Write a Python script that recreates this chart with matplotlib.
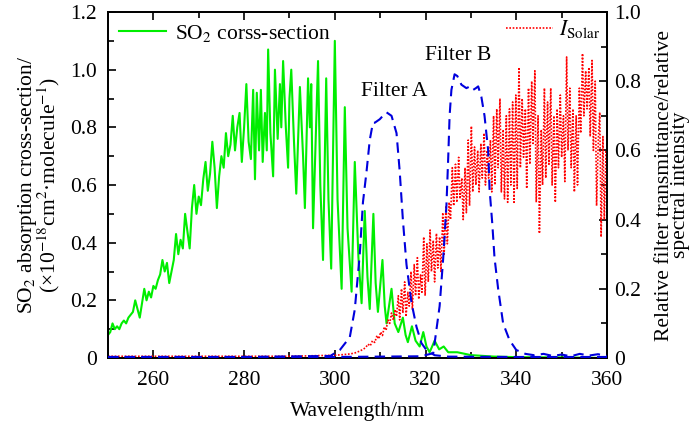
import matplotlib
matplotlib.use("Agg")
import matplotlib.pyplot as plt
from matplotlib.ticker import MultipleLocator, FuncFormatter

plt.rcParams['font.family'] = ['Liberation Serif', 'DejaVu Serif']
plt.rcParams['mathtext.fontset'] = 'stix'

# SO2 absorption cross-section (x1e-18 cm^2/molecule)
so2_wl = [250.0, 250.5, 251.0, 251.5, 252.0, 252.5, 253.0, 253.5, 254.0, 254.5,
          255.0, 255.5, 256.0, 256.5, 257.0, 257.5, 258.0, 258.5, 259.0, 259.5,
          260.0, 260.5, 261.0, 261.5, 262.0, 262.5, 263.0, 263.5, 264.0, 264.5,
          265.0, 265.5, 266.0, 266.5, 267.0, 267.5, 268.0, 268.5, 269.0, 269.5,
          270.0, 270.5, 271.0, 271.5, 272.0, 272.5, 273.0, 273.5, 274.0, 274.5,
          275.0, 275.5, 276.0, 276.5, 277.0, 277.5, 278.0, 278.5, 279.0, 279.5,
          280.0, 280.5, 281.0, 281.5, 282.0, 282.4, 282.8, 283.3, 283.7, 284.1,
          284.6, 285.0, 285.3, 285.8, 286.4, 286.8, 287.4, 287.9, 288.2, 288.6,
          289.2, 289.7, 290.0, 290.4, 291.0, 291.5, 292.3, 293.0, 293.4, 294.1,
          294.5, 294.8, 295.2, 296.3, 296.8, 297.4, 298.1, 298.6, 299.2, 300.0,
          300.6, 301.5, 302.2, 302.8, 303.7, 304.4, 305.2, 305.9, 306.6, 307.2,
          307.7, 308.5, 309.0, 309.5, 310.5, 311.0, 311.4, 312.5, 313.2, 314.0,
          315.0, 315.6, 316.1, 317.0, 317.8, 318.7, 319.5, 320.2, 320.9, 322.0,
          323.0, 324.0, 325.0, 327.0, 330.0, 335.0, 340.0, 350.0, 360.0]
so2_val = [0.08, 0.09, 0.12, 0.10, 0.11, 0.10, 0.12, 0.13, 0.12, 0.14,
           0.15, 0.16, 0.20, 0.17, 0.14, 0.19, 0.24, 0.20, 0.23, 0.21,
           0.25, 0.24, 0.27, 0.29, 0.34, 0.30, 0.33, 0.26, 0.30, 0.34,
           0.43, 0.36, 0.41, 0.38, 0.50, 0.44, 0.38, 0.52, 0.60, 0.50,
           0.56, 0.53, 0.62, 0.68, 0.58, 0.64, 0.75, 0.66, 0.52, 0.63,
           0.70, 0.66, 0.78, 0.70, 0.74, 0.84, 0.72, 0.80, 0.85, 0.68,
           0.80, 0.95, 0.75, 0.69, 0.93, 0.62, 0.92, 0.72, 0.93, 0.68,
           0.85, 0.72, 1.07, 0.78, 0.63, 1.00, 0.76, 0.95, 0.80, 1.03,
           0.80, 0.66, 0.90, 1.00, 0.75, 0.57, 0.94, 0.70, 0.52, 0.97,
           0.80, 0.95, 0.45, 1.03, 0.60, 0.34, 0.97, 0.55, 0.31, 1.10,
           0.55, 0.24, 0.87, 0.45, 0.23, 0.68, 0.35, 0.19, 0.51, 0.28,
           0.17, 0.50, 0.26, 0.16, 0.34, 0.18, 0.12, 0.24, 0.12, 0.09,
           0.14, 0.08, 0.055, 0.11, 0.06, 0.04, 0.09, 0.04, 0.02, 0.06,
           0.03, 0.04, 0.02, 0.02, 0.01, 0.005, 0.003, 0.002, 0.0]

# Filter A transmittance (relative)
fa_wl = [250.0, 280.0, 299.0, 301.1, 303.3, 304.4, 305.5, 306.2, 307.0, 307.7,
         308.4, 308.8, 309.9, 310.6, 311.4, 312.5, 313.6, 314.3, 315.0, 315.8,
         316.9, 318.0, 319.1, 320.2, 322.0, 325.0, 340.0, 360.0]
fa_val = [0.003, 0.003, 0.006, 0.023, 0.06, 0.14, 0.30, 0.45, 0.54, 0.63,
          0.68, 0.68, 0.69, 0.70, 0.71, 0.70, 0.65, 0.54, 0.40, 0.27,
          0.16, 0.09, 0.043, 0.023, 0.008, 0.004, 0.003, 0.003]

# Filter B transmittance (relative)
fb_wl = [250.0, 300.0, 319.0, 321.7, 323.1, 323.9, 324.6, 325.0, 325.3, 325.7,
         326.4, 327.0, 327.9, 329.0, 329.8, 330.5, 331.1, 331.6, 332.3, 333.0,
         333.8, 334.1, 334.7, 335.2, 336.0, 337.1, 338.5, 340.0, 340.6, 342.0,
         344.0, 346.0, 348.0, 350.0, 352.0, 354.0, 356.0, 358.0, 360.0]
fb_val = [0.003, 0.003, 0.005, 0.014, 0.15, 0.29, 0.44, 0.58, 0.70, 0.775,
          0.82, 0.815, 0.79, 0.78, 0.785, 0.775, 0.78, 0.785, 0.755, 0.70,
          0.60, 0.49, 0.39, 0.29, 0.20, 0.10, 0.052, 0.023, 0.02, 0.012,
          0.008, 0.012, 0.006, 0.01, 0.005, 0.012, 0.007, 0.011, 0.006]

# Relative solar spectral intensity
sol_wl = [250.0, 270.0, 290.0, 300.0, 302.0, 303.5, 304.5, 305.5, 306.2, 306.8,
          307.3, 307.8, 308.3, 308.8, 309.3, 309.7, 310.1, 310.5, 310.9, 311.3,
          311.7, 312.1, 312.5, 312.9, 313.3, 313.6, 314.0, 314.3, 314.7, 315.0,
          315.4, 315.7, 316.1, 316.4, 316.8, 317.1, 317.5, 317.8, 318.2, 318.5,
          318.9, 319.2, 319.6, 319.9, 320.3, 320.6, 321.0, 321.3, 321.7, 322.0,
          322.4, 322.7, 323.1, 323.4, 323.8, 324.1, 324.5, 324.8, 325.2, 325.5,
          325.9, 326.2, 326.6, 326.9, 327.3, 327.6, 328.0, 328.3, 328.7, 329.0,
          329.4, 329.7, 330.1, 330.4, 330.8, 331.1, 331.5, 331.8, 332.2, 332.5,
          332.9, 333.2, 333.6, 333.9, 334.3, 334.6, 335.0, 335.3, 335.7, 336.0,
          336.4, 336.7, 337.1, 337.4, 337.8, 338.1, 338.5, 338.8, 339.2, 339.5,
          339.9, 340.2, 340.6, 340.9, 341.3, 341.6, 342.0, 342.3, 342.7, 343.0,
          343.4, 343.7, 344.1, 344.4, 344.8, 345.1, 345.5, 345.8, 346.2, 346.5,
          346.9, 347.2, 347.6, 347.9, 348.3, 348.6, 349.0, 349.3, 349.7, 350.0,
          350.4, 350.7, 351.1, 351.4, 351.8, 352.1, 352.5, 352.8, 353.2, 353.5,
          353.9, 354.2, 354.6, 354.9, 355.3, 355.6, 356.0, 356.3, 356.7, 357.0,
          357.4, 357.7, 358.1, 358.4, 358.7, 359.1, 359.4, 359.8, 360.0]
sol_val = [0.005, 0.005, 0.005, 0.008, 0.01, 0.012, 0.015, 0.02, 0.025, 0.03,
           0.04, 0.035, 0.05, 0.045, 0.065, 0.055, 0.075, 0.065, 0.09, 0.08,
           0.11, 0.10, 0.13, 0.11, 0.14, 0.12, 0.18, 0.11, 0.20, 0.13,
           0.22, 0.12, 0.19, 0.15, 0.25, 0.14, 0.27, 0.18, 0.29, 0.17,
           0.24, 0.19, 0.35, 0.18, 0.33, 0.22, 0.37, 0.25, 0.34, 0.22,
           0.36, 0.26, 0.35, 0.25, 0.42, 0.30, 0.44, 0.33, 0.45, 0.40,
           0.55, 0.44, 0.56, 0.45, 0.58, 0.46, 0.52, 0.40, 0.55, 0.42,
           0.63, 0.44, 0.67, 0.48, 0.61, 0.50, 0.60, 0.48, 0.62, 0.52,
           0.65, 0.50, 0.60, 0.52, 0.63, 0.48, 0.70, 0.50, 0.72, 0.55,
           0.75, 0.48, 0.66, 0.46, 0.70, 0.45, 0.72, 0.50, 0.74, 0.45,
           0.76, 0.49, 0.84, 0.55, 0.75, 0.58, 0.72, 0.49, 0.78, 0.56,
           0.80, 0.62, 0.83, 0.45, 0.70, 0.36, 0.66, 0.50, 0.78, 0.52,
           0.74, 0.56, 0.78, 0.50, 0.70, 0.45, 0.72, 0.55, 0.76, 0.58,
           0.70, 0.51, 0.87, 0.60, 0.78, 0.55, 0.72, 0.48, 0.70, 0.50,
           0.78, 0.65, 0.88, 0.70, 0.83, 0.72, 0.84, 0.64, 0.86, 0.60,
           0.80, 0.44, 0.64, 0.71, 0.35, 0.64, 0.40, 0.60, 0.50]

x_ticks = [260, 280, 300, 320, 340, 360]

FS = 15.5

fig = plt.figure(figsize=(6.99, 4.26), dpi=100)
ax = fig.add_axes([0.1545, 0.1596, 0.7139, 0.8122])
ax2 = ax.twinx()

l1, = ax.plot(so2_wl, so2_val, color='#00ee00', lw=1.5, label='SO$_2$ corss-section', zorder=2)
ax2.plot(fa_wl, fa_val, color='#0000dd', lw=1.5, ls=(0, (5, 3)), zorder=3)
ax2.plot(fb_wl, fb_val, color='#0000dd', lw=1.5, ls=(0, (5, 3)), zorder=3)
l2, = ax2.plot(sol_wl, sol_val, color='#ff0000', lw=1.2, ls=(0, (1, 1)), label='$I_{\\rm Solar}$', zorder=2)

ax.set_xlim(250, 360)
ax.set_ylim(0, 1.2)
ax2.set_ylim(0, 1.0)

fmt = FuncFormatter(lambda v, p: '0' if abs(v) < 1e-9 else f'{v:.1f}')
ax.set_xticks(x_ticks)
ax.xaxis.set_minor_locator(MultipleLocator(10))
ax.yaxis.set_major_locator(MultipleLocator(0.2))
ax.yaxis.set_minor_locator(MultipleLocator(0.1))
ax.yaxis.set_major_formatter(fmt)
ax2.yaxis.set_major_locator(MultipleLocator(0.2))
ax2.yaxis.set_minor_locator(MultipleLocator(0.1))
ax2.yaxis.set_major_formatter(fmt)

ax.tick_params(axis='x', which='both', direction='in', top=True, labelsize=FS, pad=9)
ax.tick_params(axis='y', which='both', direction='in', labelsize=FS, pad=8)
ax2.tick_params(axis='y', which='both', direction='in', labelsize=FS, pad=5)
ax.tick_params(which='major', length=6, width=1.2)
ax.tick_params(which='minor', length=4, width=1.2)
ax2.tick_params(which='major', length=6, width=1.2)
ax2.tick_params(which='minor', length=4, width=1.2)
for s in ax.spines.values():
    s.set_linewidth(1.3)
for s in ax2.spines.values():
    s.set_linewidth(1.3)

ax.set_xlabel('Wavelength/nm', fontsize=FS, labelpad=9)
ax.set_ylabel('SO$_2$ absorption cross-section/\n(×10$^{-18}$cm$^2$·molecule$^{-1}$)',
              fontsize=FS, linespacing=0.8, labelpad=6)
ax2.set_ylabel('Relative filter transmittance/relative\nspectral intensity',
               fontsize=FS, linespacing=0.8, labelpad=10)

ax2.text(313, 0.77, 'Filter A', fontsize=FS, ha='center', va='center')
ax2.text(327.1, 0.875, 'Filter B', fontsize=FS, ha='center', va='center')

ax.legend(handles=[l1], loc='upper left', frameon=False, fontsize=FS,
          handlelength=2.2, handletextpad=0.4, borderaxespad=0.2, borderpad=0.3)
ax2.legend(handles=[l2], loc='upper right', frameon=False, fontsize=FS,
           handlelength=2.2, handletextpad=0.3, borderaxespad=0.0, borderpad=0.3)

fig.savefig('out.png', dpi=100)
